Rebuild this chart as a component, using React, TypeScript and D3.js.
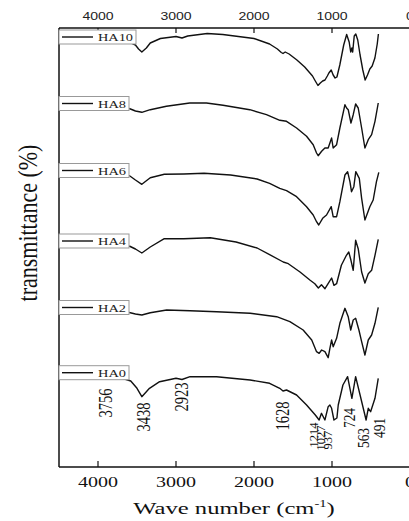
import React from 'react';
import * as d3 from 'd3';

// ---------------------------------------------------------------
// stacked FTIR spectra, values are transmittance (a.u., offset per sample)
// ---------------------------------------------------------------
const W = 409;
const H = 521;
const plot = { left: 59, right: 410, top: 28, bottom: 467 };

const xTicks = [4000, 3000, 2000, 1000, 0];
const seriesNames = ['HA10', 'HA8', 'HA6', 'HA4', 'HA2', 'HA0'];

const ha10: [number, number][] = [
  [3600, 425], [3520, 422], [3480, 418], [3438, 415], [3380, 419], [3330, 424], [3200, 428.5],
  [3000, 430.5], [2923, 429], [2850, 431], [2600, 433.5], [2400, 432.5], [2200, 430.5], [2000, 428.5],
  [1800, 423], [1700, 418], [1650, 414.5], [1628, 413.5], [1600, 415], [1550, 413], [1450, 407],
  [1350, 400], [1250, 391], [1214, 386], [1180, 381.5], [1150, 384], [1120, 386], [1090, 387],
  [1060, 391], [1040, 394], [1010, 397], [985, 392], [960, 389], [937, 390], [900, 402], [850, 422],
  [812, 432.5], [780, 425], [760, 415], [745, 419], [735, 415], [715, 431], [695, 433], [670, 427],
  [640, 412], [605, 397], [575, 387], [545, 392], [515, 398], [485, 401], [450, 409], [420, 423], [405, 433],
];
const ha8: [number, number][] = [
  [3600, 358.5], [3520, 356], [3438, 354.7], [3330, 357.3], [3123, 360.7], [2824, 364], [2610, 364],
  [2397, 361.7], [2054, 357.3], [1840, 352.3], [1669, 346.7], [1583, 345.7], [1454, 339], [1326, 330.7],
  [1241, 322.3], [1198, 314], [1177, 311.3], [1133, 315.7], [1091, 319], [1049, 319], [1005, 329],
  [985, 319], [941, 322.3], [899, 339], [834, 362.3], [813, 359], [792, 357.3], [757, 344], [728, 352.3],
  [697, 363], [664, 359], [620, 339], [578, 319], [535, 327.3], [492, 332.3], [449, 345.7], [407, 364],
];
const ha6: [number, number][] = [
  [3600, 291.5], [3520, 287], [3438, 282.7], [3330, 289.3], [3150, 292.7], [2900, 293], [2640, 293.7],
  [2300, 292], [1960, 288], [1800, 283.7], [1670, 278.7], [1583, 276.3], [1454, 270.3], [1326, 260.3],
  [1241, 252], [1198, 245.3], [1170, 242], [1120, 248.7], [1070, 252], [1010, 260.3], [985, 250.3],
  [941, 250.3], [899, 265.3], [834, 292], [800, 295.3], [770, 285.3], [750, 275.3], [720, 280.3],
  [695, 295.3], [650, 288.7], [620, 268.7], [578, 247], [515, 260.3], [472, 267], [430, 285.3], [400, 294.7],
];
const ha4: [number, number][] = [
  [3600, 221], [3520, 218], [3438, 214], [3330, 220], [3150, 228.3], [2900, 228.3], [2560, 229.3],
  [2230, 225], [1960, 219], [1800, 212.3], [1625, 205], [1560, 203.3], [1410, 195], [1280, 186.7],
  [1220, 183.3], [1175, 179], [1135, 182.3], [1090, 178.3], [1050, 183.3], [1005, 189], [975, 181.7],
  [941, 183.3], [880, 201.7], [815, 211.7], [785, 215], [757, 206.7], [728, 196.7], [697, 226.7],
  [664, 218.3], [620, 195], [578, 184], [535, 193.3], [492, 196.7], [449, 211.7], [407, 227.7],
];
const ha2: [number, number][] = [
  [3600, 154.5], [3520, 153], [3438, 152], [3330, 154.3], [3120, 157], [2820, 156.3], [2480, 155.3],
  [2050, 153.7], [1710, 150.3], [1540, 145.3], [1370, 137], [1260, 127], [1198, 115.3], [1165, 113.7],
  [1133, 117], [1091, 115.3], [1049, 109.3], [1027, 118.7], [1005, 127], [985, 120.3], [941, 128.7],
  [899, 143.7], [834, 158.7], [792, 150.3], [760, 137], [728, 147], [697, 148.7], [655, 137],
  [620, 125.3], [578, 112], [535, 127], [492, 132], [449, 143.7], [407, 159.7],
];
const ha0: [number, number][] = [
  [3920, 89.3], [3700, 89], [3580, 86], [3500, 78.7], [3438, 70.3], [3340, 78.7], [3210, 85.3],
  [3000, 88.7], [2923, 87.5], [2820, 90.3], [2480, 90.3], [2050, 87], [1800, 83.7], [1670, 78.7],
  [1628, 76], [1583, 77], [1454, 72], [1326, 62], [1214, 52], [1165, 47], [1135, 53.7], [1091, 47],
  [1049, 60.3], [1027, 62], [1005, 58.7], [975, 47], [937, 49], [920, 62], [860, 82], [800, 90.3],
  [745, 68.7], [697, 90.3], [640, 72], [563, 47], [535, 58.7], [505, 55.3], [449, 68.7], [407, 88.7],
];
const seriesData = [ha10, ha8, ha6, ha4, ha2, ha0];

// peak labels: text, where it sits (wavenumber, value), font size, horizontal stretch
const peakLabels: [string, number, number, number, number][] = [
  ['3756', 3897, 64, 14.5, 1.3],
  ['3438', 3410, 50, 14.5, 1.3],
  ['2923', 2923, 70, 14.5, 1.3],
  ['1628', 1628, 51, 14.5, 1.3],
  ['1214', 1233, 32, 12.5, 1.0],
  ['1027', 1143, 29, 12.5, 1.0],
  ['937', 1045, 27, 12.5, 1.0],
  ['724', 782, 49, 13.5, 1.3],
  ['563', 600, 29, 13.5, 1.3],
  ['491', 395, 39, 13.5, 1.3],
];

const serif = '"Liberation Serif", "Times New Roman", serif';
const sans = '"Liberation Sans", Arial, sans-serif';

export default function App() {
  const x = d3.scaleLinear([4500, 0], [plot.left, plot.right]);
  const y = d3.scaleLinear([0, 440], [plot.bottom, plot.bottom - 440]);

  const line = d3.line<[number, number]>()
    .x(d => x(d[0]))
    .y(d => y(d[1]));

  return (
    <svg width={W} height={H} style={{ position: 'absolute', left: 0, top: 0, background: '#fff' }}>
      {/* spectra */}
      {seriesData.map((s, i) => (
        <path key={seriesNames[i]} d={line(s) || ''} fill="none" stroke="#111" strokeWidth={1.4}
          strokeLinejoin="round" />
      ))}

      {/* frame */}
      <line x1={plot.left} x2={plot.right} y1={plot.top} y2={plot.top} stroke="#111" strokeWidth={1.5} />
      <line x1={plot.left} x2={plot.right} y1={plot.bottom} y2={plot.bottom} stroke="#111" strokeWidth={1.5} />
      <line x1={plot.left} x2={plot.left} y1={plot.top} y2={plot.bottom} stroke="#111" strokeWidth={1.5} />

      {/* ticks + labels */}
      {xTicks.map(t => (
        <g key={t}>
          <line x1={x(t)} x2={x(t)} y1={plot.top} y2={plot.top + 5} stroke="#111" strokeWidth={1.2} />
          <line x1={x(t)} x2={x(t)} y1={plot.bottom} y2={plot.bottom - 6} stroke="#111" strokeWidth={1.2} />
          <text x={x(t)} y={20} textAnchor="middle" fontFamily={sans} fontSize={11} fill="#222"
            textLength={String(t).length * 7.8} lengthAdjust="spacingAndGlyphs">{t}</text>
          <text x={x(t)} y={487} textAnchor="middle" fontFamily={serif} fontSize={15} fill="#111"
            textLength={String(t).length * 10} lengthAdjust="spacingAndGlyphs">{t}</text>
        </g>
      ))}

      {/* legend boxes */}
      {seriesData.map((s, i) => {
        const cy = y(s[0][1]) - 5;
        const name = seriesNames[i];
        const tl = name.length === 4 ? 35 : 28;
        return (
          <g key={'lg' + name}>
            <rect x={plot.left} y={cy - 7} width={98 + tl + 3 - plot.left} height={14}
              fill="#fff" stroke="#999" strokeWidth={1} />
            <line x1={62} x2={93} y1={cy} y2={cy} stroke="#111" strokeWidth={1.4} />
            <text x={98} y={cy + 4} fontFamily={serif} fontSize={11} fill="#222"
              textLength={tl} lengthAdjust="spacingAndGlyphs">{name}</text>
          </g>
        );
      })}

      {/* peak labels */}
      {peakLabels.map(([txt, w, v, fs, sx]) => (
        <text key={txt} transform={`translate(${x(w)},${y(v)}) scale(${sx},1) rotate(-90)`}
          textAnchor="middle" dominantBaseline="central" fontFamily={serif} fontSize={fs} fill="#111">
          {txt}
        </text>
      ))}

      {/* axis titles */}
      <text transform="translate(234,514) scale(1.45,1)" textAnchor="middle" fontFamily={serif}
        fontSize={17} fill="#111">
        Wave number (cm<tspan dy={-7} fontSize={10}>-1</tspan><tspan dy={7}>)</tspan>
      </text>
      <text transform="translate(37,223) scale(1.2,1) rotate(-90)" textAnchor="middle"
        fontFamily={serif} fontSize={22} fill="#111">
        transmittance (%)
      </text>
    </svg>
  );
}
